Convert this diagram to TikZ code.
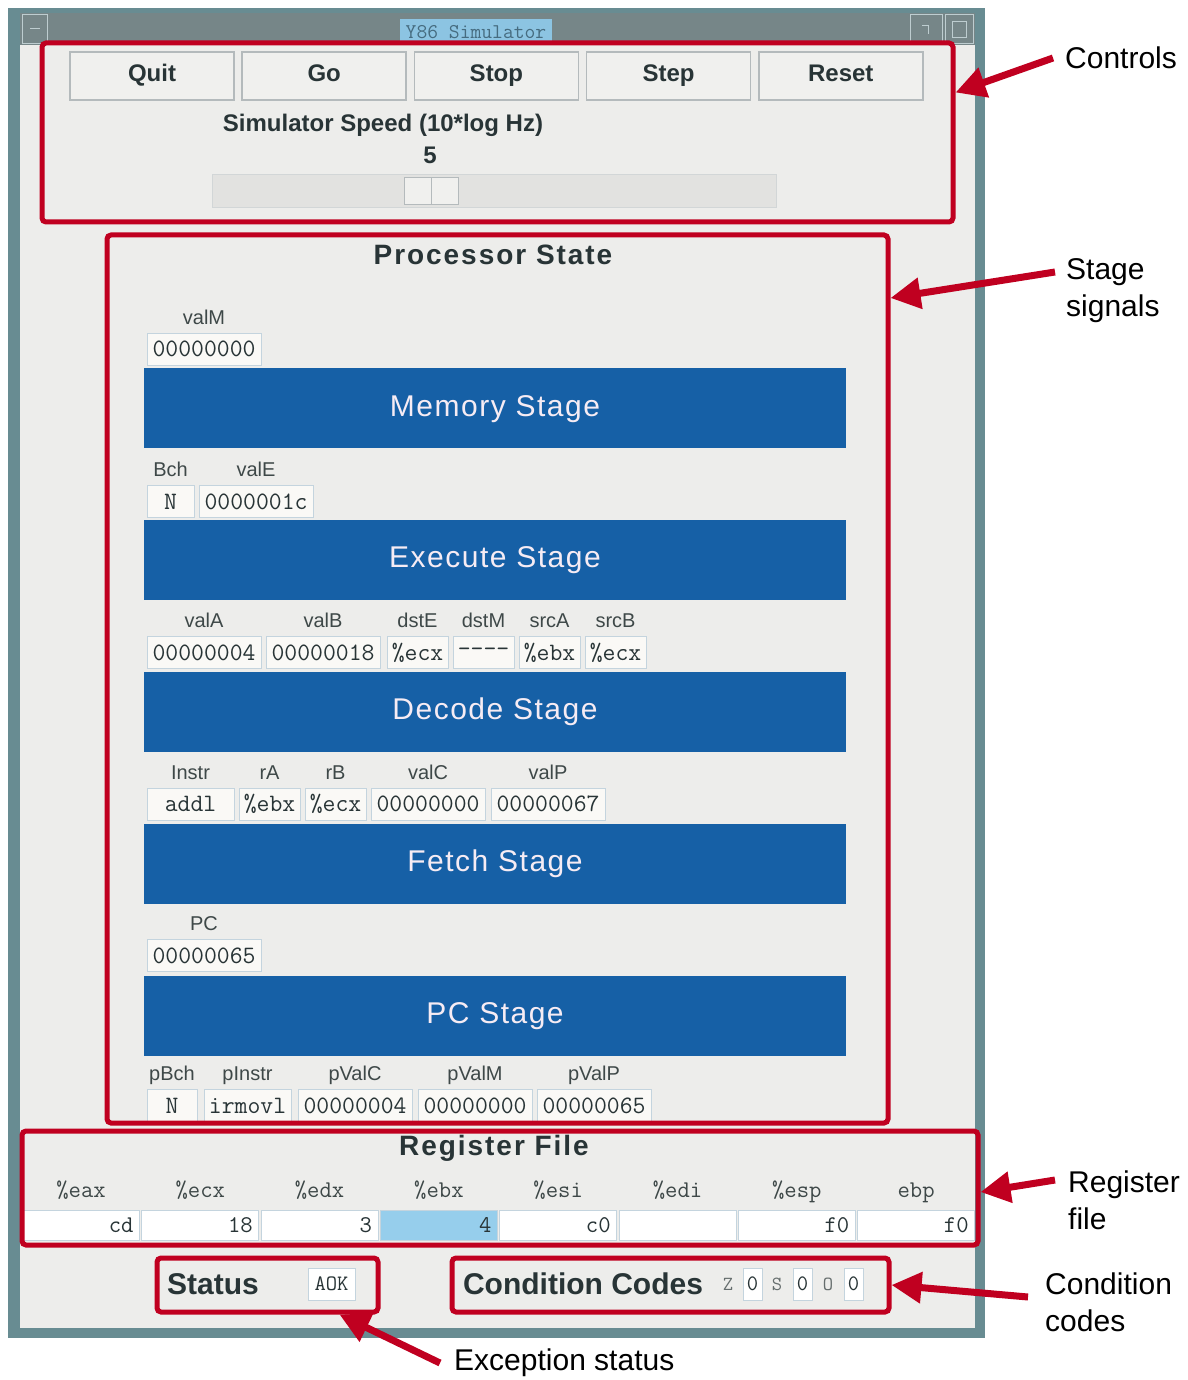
\documentclass[tikz,border=0pt]{standalone}
\usepackage{fontspec}
\setmainfont{Liberation Sans}
\usepackage{tikz}
\usetikzlibrary{positioning}
\usetikzlibrary{arrows.meta}

\definecolor{hlred}{RGB}{192,0,32}
\definecolor{stageblue}{RGB}{22,96,166}
\definecolor{stagetext}{RGB}{246,236,244}
\definecolor{panelgray}{RGB}{237,237,235}
\definecolor{winedge}{RGB}{104,140,146}
\definecolor{titlebar}{RGB}{118,134,136}
\definecolor{titleblue}{RGB}{140,196,226}
\definecolor{titletext}{RGB}{70,108,128}
\definecolor{titleline}{RGB}{190,205,208}
\definecolor{fieldedge}{RGB}{196,212,222}
\definecolor{fieldfill}{RGB}{250,249,246}
\definecolor{guitext}{RGB}{40,52,54}
\definecolor{labeltext}{RGB}{62,72,72}
\definecolor{btnfill}{RGB}{240,240,238}
\definecolor{btnedge}{RGB}{180,186,188}
\definecolor{troughgray}{RGB}{226,226,224}
\definecolor{regblue}{RGB}{150,206,236}

\begin{document}
\begin{tikzpicture}[x=1pt,y=-1pt,node distance=4pt]
\tikzstyle{redframe} = [rectangle, draw=hlred, line width=5pt, rounded corners=4pt, inner sep=0pt]
\tikzstyle{button} = [rectangle, draw=btnedge, line width=1.5pt, fill=btnfill, minimum width=164pt, minimum height=48pt, text height=17pt, text depth=5pt, text=guitext, font=\bfseries\fontsize{24}{28}\selectfont]
\tikzstyle{guibold} = [text=guitext, font=\bfseries\fontsize{24}{28}\selectfont]
\tikzstyle{heading} = [text=guitext, font=\bfseries\fontsize{28}{34}\selectfont\addfontfeature{LetterSpace=7}]
\tikzstyle{bigword} = [text=guitext, font=\bfseries\fontsize{30}{36}\selectfont]
\tikzstyle{stagebar} = [rectangle, fill=stageblue, minimum width=702pt, minimum height=80pt, text height=22pt, text depth=6pt, text=stagetext, font=\fontsize{30}{36}\selectfont\addfontfeature{LetterSpace=5}]
\tikzstyle{valbox} = [rectangle, draw=fieldedge, line width=1pt, fill=fieldfill, minimum height=32pt, inner sep=0pt, text=guitext, font=\ttfamily\fontsize{25}{30}\selectfont]
\tikzstyle{word} = [valbox, minimum width=114pt]
\tikzstyle{regname} = [valbox, minimum width=61pt]
\tikzstyle{opname} = [valbox, minimum width=87pt]
\tikzstyle{flag} = [valbox, minimum width=47pt]
\tikzstyle{flabel} = [text=labeltext, inner sep=2pt, text height=14pt, text depth=4pt, font=\fontsize{20}{24}\selectfont]
\tikzstyle{regval} = [valbox, fill=white, minimum height=30pt, text width=105pt, align=right, inner xsep=6pt, font=\ttfamily\fontsize{24}{28}\selectfont]
\tikzstyle{reglabel} = [text=labeltext, inner sep=2pt, text height=15pt, text depth=5pt, font=\ttfamily\fontsize{24}{28}\selectfont]
\tikzstyle{ccname} = [text=labeltext!80, font=\ttfamily\fontsize{20}{24}\selectfont]
\tikzstyle{ccbox} = [valbox, fill=white, minimum width=19pt, font=\ttfamily\fontsize{22}{26}\selectfont]
\tikzstyle{note} = [inner sep=0pt, align=left, text=black, font=\fontsize{30}{37}\selectfont]
\tikzstyle{pointer} = [draw=hlred, line width=7pt, -{Triangle[length=30pt,width=30pt]}]

\fill[white] (0,0) rectangle (1187,1380);
\useasboundingbox (0,0) rectangle (1187,1380);

% window
\fill[winedge] (8,8) rectangle (985,1338);
\fill[titlebar] (20,13) rectangle (975,45);
\draw[titleline, line width=1pt] (22,15) rectangle (47,44) (30,29) -- (40,29);
\draw[titleline, line width=1pt] (910,15) rectangle (942,44) (922,26) -- (928,26) -- (928,34);
\draw[titleline, line width=1pt] (945,15) rectangle (973,44) (952,22) rectangle (966,38);
\node (title) [fill=titleblue, inner sep=0pt, minimum width=152pt, minimum height=26pt, text=titletext, font=\ttfamily\fontsize{21}{24}\selectfont] at (476,32) {Y86 Simulator};
\fill[panelgray] (20,45) rectangle (975,1328);

% controls
\node (quit) [button] at (152,76) {Quit};
\node (go) [button, right=6.7pt of quit] {Go};
\node (stop) [button, right=6.7pt of go] {Stop};
\node (stepbtn) [button, right=6.7pt of stop] {Step};
\node (reset) [button, right=6.7pt of stepbtn] {Reset};
\node (speed) [guibold] at (383,125) {Simulator Speed (10*log Hz)};
\node (speedval) [guibold] at (430,155) {5};
\node (trough) [fill=troughgray, draw=btnedge!60, line width=1pt, minimum width=564pt, minimum height=33pt] at (494,191.5) {};
\node (thumb) [fill=btnfill, draw=btnedge, line width=1pt, minimum width=54pt, minimum height=27pt] at (431.5,191.5) {};
\draw[btnedge, line width=1pt] (thumb.north) -- (thumb.south);

% processor state
\node (proctitle) [heading] at (493,255) {Processor State};

\node (mem) [stagebar] at (495,408) {Memory Stage};
\node (exe) [stagebar, below=71.5pt of mem] {Execute Stage};
\node (dec) [stagebar, below=71.5pt of exe] {Decode Stage};
\node (fet) [stagebar, below=71.5pt of dec] {Fetch Stage};
\node (pcst) [stagebar, below=71.5pt of fet] {PC Stage};

\node (valm) [word] at (204,349) {00000000};
\node (valml) [flabel, above=2pt of valm] {valM};

\node (bch) [flag] at (170.5,501.5) {N};
\node (vale) [word, right=4pt of bch] {0000001c};
\node (bchl) [flabel, above=2pt of bch] {Bch};
\node (valel) [flabel, above=2pt of vale] {valE};

\node (vala) [word] at (204,652.5) {00000004};
\node (valb) [word, right=4pt of vala] {00000018};
\node (dste) [regname, right=6pt of valb] {\%ecx};
\node (dstm) [regname, right=4pt of dste] {-{}-{}-{}-};
\node (srca) [regname, right=4pt of dstm] {\%ebx};
\node (srcb) [regname, right=4pt of srca] {\%ecx};
\node (valal) [flabel, above=2pt of vala] {valA};
\node (valbl) [flabel, above=2pt of valb] {valB};
\node (dstel) [flabel, above=2pt of dste] {dstE};
\node (dstml) [flabel, above=2pt of dstm] {dstM};
\node (srcal) [flabel, above=2pt of srca] {srcA};
\node (srcbl) [flabel, above=2pt of srcb] {srcB};

\node (instr) [opname] at (190.5,804) {addl};
\node (ra) [regname, right=4pt of instr] {\%ebx};
\node (rb) [regname, right=4pt of ra] {\%ecx};
\node (valc) [word, right=4pt of rb] {00000000};
\node (valp) [word, right=5pt of valc] {00000067};
\node (instrl) [flabel, above=2pt of instr] {Instr};
\node (ral) [flabel, above=2pt of ra] {rA};
\node (rbl) [flabel, above=2pt of rb] {rB};
\node (valcl) [flabel, above=2pt of valc] {valC};
\node (valpl) [flabel, above=2pt of valp] {valP};

\node (pc) [word] at (204,955.5) {00000065};
\node (pcl) [flabel, above=2pt of pc] {PC};

\node (pbch) [flag, minimum width=50pt] at (172,1105.5) {N};
\node (pinstr) [opname, right=6pt of pbch] {irmovl};
\node (pvalc) [word, right=6pt of pinstr] {00000004};
\node (pvalm) [word, right=5pt of pvalc] {00000000};
\node (pvalp) [word, right=4pt of pvalm] {00000065};
\node (pbchl) [flabel, above=2pt of pbch] {pBch};
\node (pinstrl) [flabel, above=2pt of pinstr] {pInstr};
\node (pvalcl) [flabel, above=2pt of pvalc] {pValC};
\node (pvalml) [flabel, above=2pt of pvalm] {pValM};
\node (pvalpl) [flabel, above=2pt of pvalp] {pValP};

% register file
\node (regtitle) [heading] at (494,1148) {Register File};
\node (eax) [regval] at (81,1225) {cd};
\node (ecx) [regval, right=1.3pt of eax] {18};
\node (edx) [regval, right=1.3pt of ecx] {3};
\node (ebx) [regval, fill=regblue, right=1.3pt of edx] {4};
\node (esi) [regval, right=1.3pt of ebx] {c0};
\node (edi) [regval, right=1.3pt of esi] {};
\node (esp) [regval, right=1.3pt of edi] {f0};
\node (ebp) [regval, right=1.3pt of esp] {f0};
\node (eaxl) [reglabel, above=5pt of eax] {\%eax};
\node (ecxl) [reglabel, above=5pt of ecx] {\%ecx};
\node (edxl) [reglabel, above=5pt of edx] {\%edx};
\node (ebxl) [reglabel, above=5pt of ebx] {\%ebx};
\node (esil) [reglabel, above=5pt of esi] {\%esi};
\node (edil) [reglabel, above=5pt of edi] {\%edi};
\node (espl) [reglabel, above=5pt of esp] {\%esp};
\node (ebpl) [reglabel, above=5pt of ebp] {ebp};

% status and condition codes
\node (status) [bigword] at (213,1284) {Status};
\node (aok) [valbox, fill=white, minimum width=47pt, font=\ttfamily\fontsize{22}{26}\selectfont] at (331.5,1284) {AOK};
\node (ccodes) [bigword] at (583,1284) {Condition Codes};
\node (zf) [ccname] at (728,1284) {Z};
\node (zv) [ccbox] at (752.5,1284) {0};
\node (sf) [ccname] at (777,1284) {S};
\node (sv) [ccbox] at (802.5,1284) {0};
\node (of) [ccname] at (828,1284) {O};
\node (ov) [ccbox] at (853.5,1284) {0};

% highlight frames
\node (ctrl) [redframe, minimum width=911pt, minimum height=179pt] at (497.5,132.5) {};
\node (proc) [redframe, minimum width=781pt, minimum height=888pt] at (497.5,679) {};
\node (regs) [redframe, minimum width=956pt, minimum height=114pt] at (500,1188) {};
\node (stat) [redframe, minimum width=221pt, minimum height=54pt] at (267.5,1285) {};
\node (cc) [redframe, minimum width=437pt, minimum height=54pt] at (670.5,1285) {};

% callouts
\node (lctrl) [note, anchor=west] at (1065,58) {Controls};
\node (lstage) [note, anchor=west] at (1066,291) {Stage\\signals};
\node (lreg) [note, anchor=west] at (1068,1200) {Register\\file};
\node (lcc) [note, anchor=west] at (1045,1302) {Condition\\codes};
\node (lexc) [note, anchor=west] at (454,1363) {Exception status};

\draw [pointer] ([xshift=-12pt]lctrl.west) -- ([yshift=40pt]ctrl.east);
\draw [pointer] ([xshift=-11pt,yshift=19pt]lstage.west) -- ([yshift=381pt]proc.east);
\draw [pointer] ([xshift=-13pt,yshift=20pt]lreg.west) -- ([yshift=-4pt]regs.east);
\draw [pointer] ([xshift=-17pt,yshift=5pt]lcc.west) -- (cc.east);
\draw [pointer] ([xshift=-14pt]lexc.west) -- ([xshift=72pt]stat.south);
\end{tikzpicture}
\end{document}
